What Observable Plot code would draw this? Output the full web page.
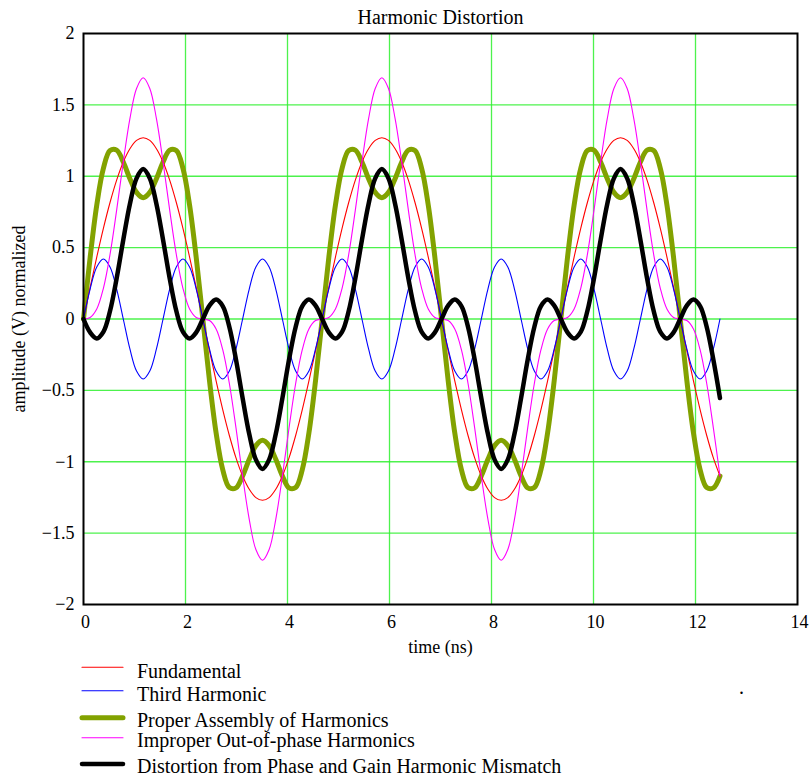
<!DOCTYPE html>
<html>
<head>
<meta charset="utf-8">
<script src="https://cdn.jsdelivr.net/npm/d3@7"></script>
<script src="https://cdn.jsdelivr.net/npm/@observablehq/plot@0.6"></script>
<style>
  html, body { margin: 0; padding: 0; background: #fff; }
  #chart { position: relative; width: 810px; height: 778px; font-family: "Liberation Serif", "Times New Roman", serif; }
  #chart svg { display: block; }
</style>
</head>
<body>
<div id="chart"></div>
<script>
// ---- Data ----
const chartTitle = "Harmonic Distortion";
const xLabel = "time (ns)";
const yLabel = "amplitude (V) normalized";

const xTicks = [0, 2, 4, 6, 8, 10, 12, 14];
const yTicks = [-2, -1.5, -1, -0.5, 0, 0.5, 1, 1.5, 2];

const seriesNames = [
  "Fundamental",
  "Third Harmonic",
  "Proper Assembly of Harmonics",
  "Improper Out-of-phase Harmonics",
  "Distortion from Phase and Gain Harmonic Mismatch"
];

// sample times (ns)
const time = [
  0, 0.13, 0.26, 0.39, 0.52, 0.65, 0.78, 0.91, 1.04, 1.17,
  1.3, 1.43, 1.56, 1.69, 1.82, 1.95, 2.08, 2.21, 2.34, 2.47,
  2.6, 2.73, 2.86, 2.99, 3.12, 3.25, 3.38, 3.51, 3.64, 3.77,
  3.9, 4.03, 4.16, 4.29, 4.42, 4.55, 4.68, 4.81, 4.94, 5.07,
  5.2, 5.33, 5.46, 5.59, 5.72, 5.85, 5.98, 6.11, 6.24, 6.37,
  6.5, 6.63, 6.76, 6.89, 7.02, 7.15, 7.28, 7.41, 7.54, 7.67,
  7.8, 7.93, 8.06, 8.19, 8.32, 8.45, 8.58, 8.71, 8.84, 8.97,
  9.1, 9.23, 9.36, 9.49, 9.62, 9.75, 9.88, 10.01, 10.14, 10.27,
  10.4, 10.53, 10.66, 10.79, 10.92, 11.05, 11.18, 11.31, 11.44, 11.57,
  11.7, 11.83, 11.96, 12.09, 12.22, 12.35, 12.48
];

const fundamental = [
  0, 0.221, 0.434, 0.635, 0.816, 0.973, 1.1, 1.193, 1.251, 1.27, 1.251, 1.193, 1.1, 0.973, 0.816, 0.635, 0.434, 0.221,
  0, -0.221, -0.434, -0.635, -0.816, -0.973, -1.1, -1.193, -1.251, -1.27, -1.251, -1.193, -1.1, -0.973, -0.816, -0.635, -0.434, -0.221,
  0, 0.221, 0.434, 0.635, 0.816, 0.973, 1.1, 1.193, 1.251, 1.27, 1.251, 1.193, 1.1, 0.973, 0.816, 0.635, 0.434, 0.221,
  0, -0.221, -0.434, -0.635, -0.816, -0.973, -1.1, -1.193, -1.251, -1.27, -1.251, -1.193, -1.1, -0.973, -0.816, -0.635, -0.434, -0.221,
  0, 0.221, 0.434, 0.635, 0.816, 0.973, 1.1, 1.193, 1.251, 1.27, 1.251, 1.193, 1.1, 0.973, 0.816, 0.635, 0.434, 0.221,
  0, -0.221, -0.434, -0.635, -0.816, -0.973, -1.1
];

const thirdHarmonic = [
  0, 0.21, 0.364, 0.42, 0.364, 0.21, 0, -0.21, -0.364, -0.42, -0.364, -0.21,
  0, 0.21, 0.364, 0.42, 0.364, 0.21, 0, -0.21, -0.364, -0.42, -0.364, -0.21,
  0, 0.21, 0.364, 0.42, 0.364, 0.21, 0, -0.21, -0.364, -0.42, -0.364, -0.21,
  0, 0.21, 0.364, 0.42, 0.364, 0.21, 0, -0.21, -0.364, -0.42, -0.364, -0.21,
  0, 0.21, 0.364, 0.42, 0.364, 0.21, 0, -0.21, -0.364, -0.42, -0.364, -0.21,
  0, 0.21, 0.364, 0.42, 0.364, 0.21, 0, -0.21, -0.364, -0.42, -0.364, -0.21,
  0, 0.21, 0.364, 0.42, 0.364, 0.21, 0, -0.21, -0.364, -0.42, -0.364, -0.21,
  0, 0.21, 0.364, 0.42, 0.364, 0.21, 0, -0.21, -0.364, -0.42, -0.364, -0.21,
  0
];

const properAssembly = [
  0, 0.431, 0.798, 1.055, 1.18, 1.183, 1.1, 0.983, 0.887, 0.85, 0.887, 0.983, 1.1, 1.183, 1.18, 1.055, 0.798, 0.431,
  0, -0.431, -0.798, -1.055, -1.18, -1.183, -1.1, -0.983, -0.887, -0.85, -0.887, -0.983, -1.1, -1.183, -1.18, -1.055, -0.798, -0.431,
  0, 0.431, 0.798, 1.055, 1.18, 1.183, 1.1, 0.983, 0.887, 0.85, 0.887, 0.983, 1.1, 1.183, 1.18, 1.055, 0.798, 0.431,
  0, -0.431, -0.798, -1.055, -1.18, -1.183, -1.1, -0.983, -0.887, -0.85, -0.887, -0.983, -1.1, -1.183, -1.18, -1.055, -0.798, -0.431,
  0, 0.431, 0.798, 1.055, 1.18, 1.183, 1.1, 0.983, 0.887, 0.85, 0.887, 0.983, 1.1, 1.183, 1.18, 1.055, 0.798, 0.431,
  0, -0.431, -0.798, -1.055, -1.18, -1.183, -1.1
];

const improperOutOfPhase = [
  0, 0.011, 0.07, 0.215, 0.452, 0.763, 1.1, 1.403, 1.615, 1.69, 1.615, 1.403, 1.1, 0.763, 0.452, 0.215, 0.07, 0.011,
  0, -0.011, -0.07, -0.215, -0.452, -0.763, -1.1, -1.403, -1.615, -1.69, -1.615, -1.403, -1.1, -0.763, -0.452, -0.215, -0.07, -0.011,
  0, 0.011, 0.07, 0.215, 0.452, 0.763, 1.1, 1.403, 1.615, 1.69, 1.615, 1.403, 1.1, 0.763, 0.452, 0.215, 0.07, 0.011,
  0, -0.011, -0.07, -0.215, -0.452, -0.763, -1.1, -1.403, -1.615, -1.69, -1.615, -1.403, -1.1, -0.763, -0.452, -0.215, -0.07, -0.011,
  0, 0.011, 0.07, 0.215, 0.452, 0.763, 1.1, 1.403, 1.615, 1.69, 1.615, 1.403, 1.1, 0.763, 0.452, 0.215, 0.07, 0.011,
  0, -0.011, -0.07, -0.215, -0.452, -0.763, -1.1
];

const mismatchDistortion = [
  0, -0.094, -0.136, -0.09, 0.056, 0.285, 0.554, 0.806, 0.985, 1.05, 0.985, 0.806, 0.554, 0.285, 0.056, -0.09, -0.136, -0.094,
  0, 0.094, 0.136, 0.09, -0.056, -0.285, -0.554, -0.806, -0.985, -1.05, -0.985, -0.806, -0.554, -0.285, -0.056, 0.09, 0.136, 0.094,
  0, -0.094, -0.136, -0.09, 0.056, 0.285, 0.554, 0.806, 0.985, 1.05, 0.985, 0.806, 0.554, 0.285, 0.056, -0.09, -0.136, -0.094,
  0, 0.094, 0.136, 0.09, -0.056, -0.285, -0.554, -0.806, -0.985, -1.05, -0.985, -0.806, -0.554, -0.285, -0.056, 0.09, 0.136, 0.094,
  0, -0.094, -0.136, -0.09, 0.056, 0.285, 0.554, 0.806, 0.985, 1.05, 0.985, 0.806, 0.554, 0.285, 0.056, -0.09, -0.136, -0.094,
  0, 0.094, 0.136, 0.09, -0.056, -0.285, -0.554
];

// ---- Styling (kept apart from the data) ----
const seriesValues = [fundamental, thirdHarmonic, properAssembly, improperOutOfPhase, mismatchDistortion];
const seriesColors = ["#ff0000", "#0000ff", "#82a200", "#ff00ff", "#000000"];
const seriesWidths = [1.1, 1.1, 5, 1.1, 4.5];
const drawOrder = [2, 0, 1, 3, 4];
const gridColor = "#2ef02e";
const minus = d => (d < 0 ? "\u2212" : "") + Math.abs(d);

const rows = [];
seriesNames.forEach((name, j) => {
  seriesValues[j].forEach((v, i) => rows.push({time: time[i], value: v, series: name}));
});

const lineMarks = drawOrder.map(j => Plot.line(rows, {
  filter: d => d.series === seriesNames[j],
  x: "time", y: "value",
  stroke: seriesColors[j], strokeWidth: seriesWidths[j],
  curve: "catmull-rom", strokeLinejoin: "round", strokeLinecap: "round"
}));

const plot = Plot.plot({
  width: 810,
  height: 660,
  marginTop: 33,
  marginLeft: 83,
  marginRight: 13,
  marginBottom: 56,
  style: {fontFamily: "'Liberation Serif', 'Times New Roman', serif", fontSize: "18px", background: "#fff", color: "#000", overflow: "visible"},
  x: {domain: [0, 14]},
  y: {domain: [-2, 2]},
  marks: [
    Plot.gridX(xTicks.slice(1, -1), {stroke: gridColor, strokeOpacity: 0.85, strokeWidth: 1.3}),
    Plot.gridY(yTicks.slice(1, -1), {stroke: gridColor, strokeOpacity: 0.85, strokeWidth: 1.3}),
    ...lineMarks,
    Plot.frame({stroke: "#000", strokeWidth: 2}),
    Plot.axisX(xTicks, {tickSize: 0, tickPadding: 11, dx: 2, label: null, fontSize: 18}),
    Plot.axisY(yTicks, {tickSize: 0, tickPadding: 9, tickFormat: minus, label: null, fontSize: 18}),
    Plot.text([chartTitle], {text: d => d, frameAnchor: "top", dy: -24, fontSize: 20}),
    Plot.text([xLabel], {text: d => d, frameAnchor: "bottom", dy: 48, fontSize: 18}),
    Plot.text([yLabel], {text: d => d, frameAnchor: "left", textAnchor: "middle", dx: -64, rotate: -90, fontSize: 18})
  ]
});

const chart = document.getElementById("chart");
chart.append(plot);

// ---- Legend below the plot ----
const legendLineY = [7.3, 30.7, 57.7, 77.7, 104];
const legendTextY = [18.3, 41, 66.7, 86.7, 113.3];
const legend = d3.create("svg")
  .attr("width", 810)
  .attr("height", 118)
  .style("font-family", "'Liberation Serif', 'Times New Roman', serif")
  .style("font-size", "20px");
seriesNames.forEach((name, j) => {
  legend.append("line")
    .attr("x1", 82).attr("x2", 123)
    .attr("y1", legendLineY[j]).attr("y2", legendLineY[j])
    .attr("stroke", seriesColors[j])
    .attr("stroke-width", seriesWidths[j])
    .attr("stroke-linecap", "round");
  legend.append("text")
    .attr("x", 137).attr("y", legendTextY[j])
    .attr("fill", "#000")
    .text(name);
});
legend.append("text").attr("x", 739).attr("y", 34).attr("fill", "#000").text(".");
chart.append(legend.node());
</script>
</body>
</html>
